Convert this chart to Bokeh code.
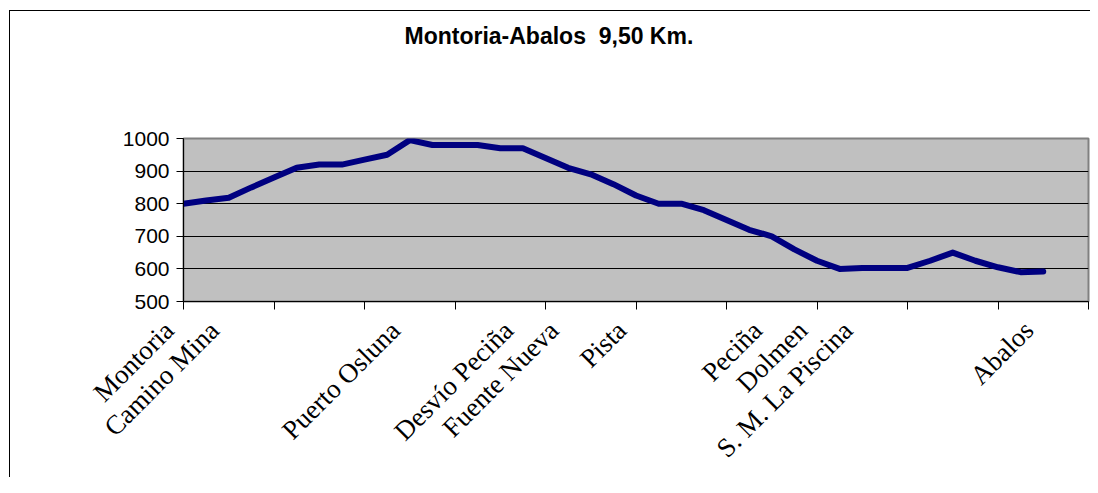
import math
from bokeh.plotting import figure
from bokeh.models import FixedTicker, Range1d, LinearAxis, Title
from bokeh.embed import file_html
from bokeh.resources import INLINE

# ---- data ----
chart_title = "Montoria-Abalos \u00a09,50 Km."
elevation = [800, 810, 818, 850, 880, 910, 920, 920, 935, 950,
             995, 980, 980, 980, 970, 970, 940, 910, 890, 860,
             825, 800, 800, 780, 750, 720, 700, 660, 625, 600,
             603, 603, 603, 625, 650, 625, 605, 590, 592]
label_positions = [0, 2, 10, 15, 17, 20, 26, 28, 30, 38]
label_names = ["Montoria", "Camino Mina", "Puerto Osluna", "Desvío Peciña",
               "Fuente Nueva", "Pista", "Peciña", "Dolmen",
               "S. M. La Piscina", "Abalos"]
category_ticks = [0, 4, 8, 12, 16, 20, 24, 28, 32, 36, 40]
y_ticks = [500, 600, 700, 800, 900, 1000]

# trailing no-break spaces make the rotated names end a little before their category
label_pad = "\u00a0" * 3

x = list(range(len(elevation)))

p = figure(width=1090, height=477, output_backend="svg", toolbar_location=None,
           x_range=Range1d(category_ticks[0], category_ticks[-1]),
           y_range=Range1d(y_ticks[0], y_ticks[-1]),
           min_border_left=183, min_border_right=2, min_border_top=138,
           min_border_bottom=176, title=None)

# thin chart-area border (left and top edges) drawn behind a transparent canvas
p.border_fill_color = None
p.styles = {
    "background-color": "#ffffff",
    "background-image": "linear-gradient(#000000, #000000), linear-gradient(#000000, #000000)",
    "background-size": "1px calc(100% - 10px), calc(100% - 9px) 1px",
    "background-position": "9px 10px, 9px 10px",
    "background-repeat": "no-repeat",
}

# spacer (nearest the plot area), then the real title above it
p.add_layout(Title(text="\u00a0", text_font_size="2px", standoff=86), "above")
p.add_layout(Title(text=chart_title, align="left", offset=221, vertical_align="bottom",
                   standoff=0, text_font="Liberation Sans", text_font_style="bold",
                   text_font_size="23px", text_color="black"), "above")

p.background_fill_color = "#C0C0C0"
p.outline_line_color = "#808080"
p.outline_line_width = 2

p.xgrid.visible = False
p.ygrid.ticker = FixedTicker(ticks=y_ticks)
p.ygrid.grid_line_color = "black"
p.ygrid.grid_line_width = 1

xa = p.xaxis[0]
xa.ticker = FixedTicker(ticks=category_ticks, minor_ticks=[])
xa.major_label_overrides = {t: "" for t in category_ticks}
xa.major_label_text_font_size = "0px"
xa.major_label_standoff = 0
xa.major_tick_out = 8
xa.major_tick_in = 0
xa.minor_tick_out = 0
xa.minor_tick_in = 0
xa.major_tick_line_color = "black"
xa.axis_line_color = "black"

ya = p.yaxis[0]
ya.ticker = FixedTicker(ticks=y_ticks)
ya.major_tick_out = 7
ya.major_tick_in = 0
ya.minor_tick_out = 0
ya.minor_tick_in = 0
ya.major_tick_line_color = "black"
ya.axis_line_color = "black"
ya.major_label_text_font = "Liberation Sans"
ya.major_label_text_font_size = "21px"
ya.major_label_text_color = "black"
ya.major_label_standoff = 7

p.line(x, elevation, line_color="#000080", line_width=6,
       line_join="round", line_cap="round")

# category-name axis
label_axis = LinearAxis(ticker=FixedTicker(ticks=label_positions, minor_ticks=[]),
                        major_label_overrides={pos: name + label_pad
                                               for pos, name in zip(label_positions, label_names)},
                        major_label_orientation=math.pi / 4,
                        axis_line_color=None, major_tick_line_color=None,
                        minor_tick_line_color=None,
                        major_tick_out=0, major_tick_in=0,
                        minor_tick_out=0, minor_tick_in=0,
                        major_label_standoff=2,
                        major_label_text_font="Liberation Serif",
                        major_label_text_font_size="27px",
                        major_label_text_color="black")
p.add_layout(label_axis, "below")

open("out.html", "w").write(file_html(p, INLINE))
